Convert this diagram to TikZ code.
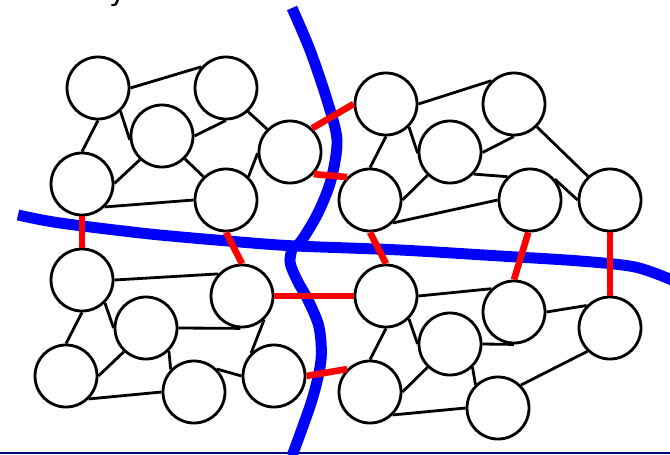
\documentclass[tikz,border=0pt]{standalone}
\usepackage{fontspec}
\setmainfont{DejaVu Sans}
\usepackage{tikz}
\usetikzlibrary{arrows,shapes,positioning}
\usepackage{xcolor}
\definecolor{cutred}{RGB}{255,0,0}
\definecolor{partblue}{RGB}{0,0,255}
\definecolor{barnavy}{RGB}{0,0,128}
\tikzstyle{vertex} = [circle, minimum size=1.55cm, inner sep=0pt, draw=black, fill=white, line width=2pt]
\tikzstyle{edge} = [line width=2pt, color=black]
\tikzstyle{cut} = [line width=4.7pt, color=cutred]
\tikzstyle{part} = [line width=7.8pt, color=partblue]

\begin{document}
\begin{tikzpicture}[x=0.025cm, y=-0.025cm]
\useasboundingbox (0,0) rectangle (670,454);
\begin{scope}
\clip (0,0) rectangle (670,454);
\node (title) [anchor=base west, inner sep=0pt, font=\fontsize{21}{25}\selectfont] at (109,0) {y};
\end{scope}
\fill[barnavy] (0,451.6) rectangle (670,454);

\draw[part] plot[smooth] coordinates {(18,215) (60,223) (150,234) (240,242) (296,246) (400,250) (500,256) (580,261) (635,267) (672,280)};
\draw[part] plot[smooth] coordinates {(292,8) (310,50) (327,100) (337,140) (331,180) (318,213) (302,240) (295,247)};
\draw[part] plot[smooth] coordinates {(293,245) (290,262) (297,280) (308,300) (319,327) (321,360) (312,400) (292,456)};

\node (tl1) [vertex] at (98,88) {};
\node (tl2) [vertex] at (226,88) {};
\node (tl3) [vertex] at (162,136) {};
\node (tl4) [vertex] at (82,184) {};
\node (tl5) [vertex] at (226,200) {};
\node (tl6) [vertex] at (290,152) {};

\node (tr1) [vertex] at (386,104) {};
\node (tr2) [vertex] at (514,104) {};
\node (tr3) [vertex] at (450,152) {};
\node (tr4) [vertex] at (370,200) {};
\node (tr5) [vertex] at (530,200) {};
\node (tr6) [vertex] at (610,200) {};

\node (bl1) [vertex] at (82,280) {};
\node (bl2) [vertex] at (242,296) {};
\node (bl3) [vertex] at (146,328) {};
\node (bl4) [vertex] at (66,376) {};
\node (bl5) [vertex] at (194,392) {};
\node (bl6) [vertex] at (274,376) {};

\node (br1) [vertex] at (386,296) {};
\node (br2) [vertex] at (514,312) {};
\node (br3) [vertex] at (450,344) {};
\node (br4) [vertex] at (370,392) {};
\node (br5) [vertex] at (498,408) {};
\node (br6) [vertex] at (610,328) {};

\draw[edge] (tl1.0) -- (tl2.139);
\draw[edge] (tl1.-90) -- (tl4.90);
\draw[edge] (tl1.-46) -- (tl3.187);
\draw[edge] (tl3.0) -- (tl2.-90);
\draw[edge] (tl3.227) -- (tl4.1);
\draw[edge] (tl3.-45) -- (tl5.134);
\draw[edge] (tl2.-47) -- (tl6.135);
\draw[edge] (tl6.182) -- (tl5.46);
\draw[edge] (tl4.-45) -- (tl5.180);

\draw[edge] (tr1.0) -- (tr2.134);
\draw[edge] (tr1.-90) -- (tr4.90);
\draw[edge] (tr1.-45) -- (tr3.182);
\draw[edge] (tr3.-1) -- (tr2.-90);
\draw[edge] (tr3.226) -- (tr4.0);
\draw[edge] (tr3.-43) -- (tr5.134);
\draw[edge] (tr2.-45) -- (tr6.133);
\draw[edge] (tr5.40) -- (tr6.180);
\draw[edge] (tr4.-45) -- (tr5.180);

\draw[edge] (bl1.0) -- (bl2.137);
\draw[edge] (bl1.-90) -- (bl4.90);
\draw[edge] (bl1.-45) -- (bl3.180);
\draw[edge] (bl3.0) -- (bl2.-93);
\draw[edge] (bl3.227) -- (bl4.0);
\draw[edge] (bl3.-45) -- (bl5.136);
\draw[edge] (bl2.-47) -- (bl6.135);
\draw[edge] (bl5.45) -- (bl6.180);
\draw[edge] (bl4.-45) -- (bl5.180);

\draw[edge] (br1.0) -- (br2.134);
\draw[edge] (br1.-90) -- (br4.90);
\draw[edge] (br1.-45) -- (br3.180);
\draw[edge] (br3.0) -- (br2.-90);
\draw[edge] (br3.226) -- (br4.0);
\draw[edge] (br3.-46) -- (br5.134);
\draw[edge] (br2.0) -- (br6.136);
\draw[edge] (br6.226) -- (br5.45);
\draw[edge] (br4.-45) -- (br5.180);

\draw[cut] (tl6.47) -- (tr1.180);
\draw[cut] (tl6.-43) -- (tr4.135);
\draw[cut] (tl4.-90) -- (bl1.90);
\draw[cut] (tl5.-90) -- (bl2.90);
\draw[cut] (bl2.0) -- (br1.180);
\draw[cut] (bl6.0) -- (br4.135);
\draw[cut] (tr4.-90) -- (br1.90);
\draw[cut] (tr5.-93) -- (br2.90);
\draw[cut] (tr6.-90) -- (br6.90);
\end{tikzpicture}
\end{document}
